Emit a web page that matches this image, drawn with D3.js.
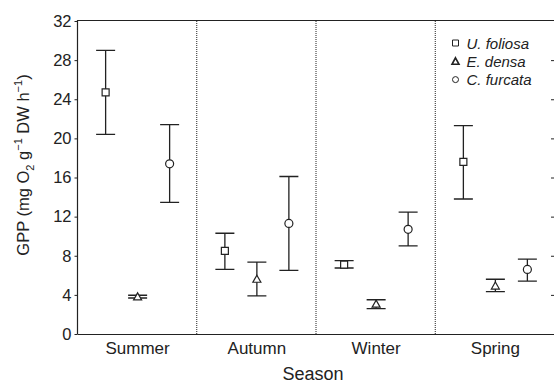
<!DOCTYPE html>
<html>
<head>
<meta charset="utf-8">
<script src="https://cdn.jsdelivr.net/npm/d3@7"></script>
<style>
  body { margin: 0; background: #fff; }
  svg { display: block; font-family: "Liberation Sans", Arial, sans-serif; }
</style>
</head>
<body>
<svg id="chart" width="554" height="385"></svg>
<script>
// Seasons and species
const seasons = ["Summer", "Autumn", "Winter", "Spring"];
const species = ["U. foliosa", "E. densa", "C. furcata"];
const symbols = ["square", "triangle", "circle"];

// mean GPP and error bar limits, one array per species (in season order)
const ufoliosaMean = [24.7, 8.5, 7.1, 17.6];
const ufoliosaLow  = [20.4, 6.6, 6.75, 13.8];
const ufoliosaHigh = [29.0, 10.3, 7.5, 21.3];

const edensaMean = [3.8, 5.6, 3.05, 4.9];
const edensaLow  = [3.68, 3.9, 2.6, 4.33];
const edensaHigh = [3.96, 7.35, 3.5, 5.6];

const cfurcataMean = [17.4, 11.3, 10.7, 6.6];
const cfurcataLow  = [13.45, 6.5, 9.0, 5.4];
const cfurcataHigh = [21.4, 16.1, 12.45, 7.65];

const yTicks = [0, 4, 8, 12, 16, 20, 24, 28, 32];

(function () {
    const svg = d3.select("#chart");
    const left = 78, right = 555, top = 21, bottom = 334;
    const ink = "#222";

    const x = d3.scaleBand().domain(seasons).range([left, right]);
    const xs = d3.scalePoint().domain(species).range([-32, 32]);
    const y = d3.scaleLinear().domain([0, 32]).range([bottom, top]);

    const rows = [];
    const sets = [
        [ufoliosaMean, ufoliosaLow, ufoliosaHigh],
        [edensaMean, edensaLow, edensaHigh],
        [cfurcataMean, cfurcataLow, cfurcataHigh]
    ];
    species.forEach((sp, i) => {
        seasons.forEach((s, j) => {
            rows.push({ season: s, species: sp, sym: symbols[i],
                mean: sets[i][0][j], lo: sets[i][1][j], hi: sets[i][2][j] });
        });
    });

    // dotted season dividers
    svg.selectAll(".div")
        .data(seasons.slice(1))
        .join("line")
        .attr("x1", d => x(d) - 0.5).attr("x2", d => x(d) - 0.5)
        .attr("y1", top).attr("y2", bottom)
        .attr("stroke", ink).attr("stroke-width", 1)
        .attr("stroke-dasharray", "1,1");

    // frame: left, top, bottom
    svg.append("path")
        .attr("d", `M${left - 0.5},${bottom}V${top - 0.5}H${right}M${left - 0.5},${bottom + 0.5}H${right}`)
        .attr("fill", "none").attr("stroke", ink).attr("stroke-width", 1.2);

    // y axis
    const yAxis = svg.append("g")
        .attr("transform", `translate(${left - 0.5},0)`)
        .call(d3.axisLeft(y).tickValues(yTicks).tickSize(3).tickPadding(3));
    yAxis.select(".domain").remove();
    yAxis.selectAll("line").attr("stroke", ink);
    yAxis.selectAll("text").attr("font-size", 16.5).attr("fill", ink)
        .attr("font-family", "Liberation Sans, Arial, sans-serif");

    // right inner ticks (axis itself cut off)
    svg.selectAll(".rt")
        .data(yTicks.slice(1, -1))
        .join("line")
        .attr("x1", right - 4).attr("x2", right)
        .attr("y1", d => y(d) + 0.5).attr("y2", d => y(d) + 0.5)
        .attr("stroke", ink);

    // season labels
    svg.selectAll(".sl")
        .data(seasons)
        .join("text")
        .attr("x", d => x(d) + x.bandwidth() / 2)
        .attr("y", 354)
        .attr("text-anchor", "middle")
        .attr("font-size", 17).attr("fill", ink)
        .text(d => d);

    svg.append("text")
        .attr("x", 313).attr("y", 380)
        .attr("text-anchor", "middle")
        .attr("font-size", 18).attr("fill", ink)
        .text("Season");

    // y title
    const yt = svg.append("text")
        .attr("transform", "translate(29,165) rotate(-90)")
        .attr("text-anchor", "middle")
        .attr("font-size", 16.5).attr("fill", ink);
    yt.append("tspan").text("GPP (mg O");
    yt.append("tspan").attr("font-size", 11).attr("dy", 5).text("2");
    yt.append("tspan").attr("dy", -5).text(" g");
    yt.append("tspan").attr("font-size", 11).attr("dy", -7).text("\u22121");
    yt.append("tspan").attr("dy", 7).text(" DW h");
    yt.append("tspan").attr("font-size", 11).attr("dy", -7).text("\u22121");
    yt.append("tspan").attr("dy", 7).text(")");

    // error bars
    const cx = d => x(d.season) + x.bandwidth() / 2 + xs(d.species);
    const g = svg.append("g").attr("stroke", ink).attr("stroke-width", 1.3).attr("fill", "none");
    g.selectAll(".eb")
        .data(rows)
        .join("path")
        .attr("d", d => {
            const c = cx(d), w = 9.5;
            return `M${c},${y(d.lo)}V${y(d.hi)}M${c - w},${y(d.hi)}H${c + w}M${c - w},${y(d.lo)}H${c + w}`;
        });

    function symbolPath(sym, c, cy) {
        if (sym === "square") return `M${c - 3.5},${cy - 3.5}h7v7h-7z`;
        if (sym === "triangle") return `M${c},${cy - 4}L${c + 4},${cy + 3}L${c - 4},${cy + 3}Z`;
        return null;
    }

    const marks = svg.append("g").attr("stroke", ink).attr("stroke-width", 1.2).attr("fill", "#fff");
    marks.selectAll(".pt")
        .data(rows.filter(d => d.sym !== "circle"))
        .join("path")
        .attr("d", d => symbolPath(d.sym, cx(d), y(d.mean)));
    marks.selectAll("circle")
        .data(rows.filter(d => d.sym === "circle"))
        .join("circle")
        .attr("cx", cx).attr("cy", d => y(d.mean)).attr("r", 4);

    // legend
    const lg = svg.append("g").attr("transform", "translate(455.5,43)");
    species.forEach((sp, i) => {
        const ly = i * 18.3;
        if (symbols[i] === "circle") {
            lg.append("circle").attr("cx", 0).attr("cy", ly).attr("r", 3)
                .attr("fill", "#fff").attr("stroke", ink);
        } else if (symbols[i] === "square") {
            lg.append("path").attr("d", `M-3,${ly - 3}h6v6h-6z`)
                .attr("fill", "#fff").attr("stroke", ink);
        } else {
            lg.append("path").attr("d", `M0,${ly - 3.5}L3.5,${ly + 3}L-3.5,${ly + 3}Z`)
                .attr("fill", "#fff").attr("stroke", ink).attr("stroke-width", 1.6);
        }
        lg.append("text")
            .attr("x", 11).attr("y", ly + 5.5)
            .attr("font-size", 15).attr("font-style", "italic").attr("fill", ink)
            .text(sp);
    });
})();
</script>
</body>
</html>
